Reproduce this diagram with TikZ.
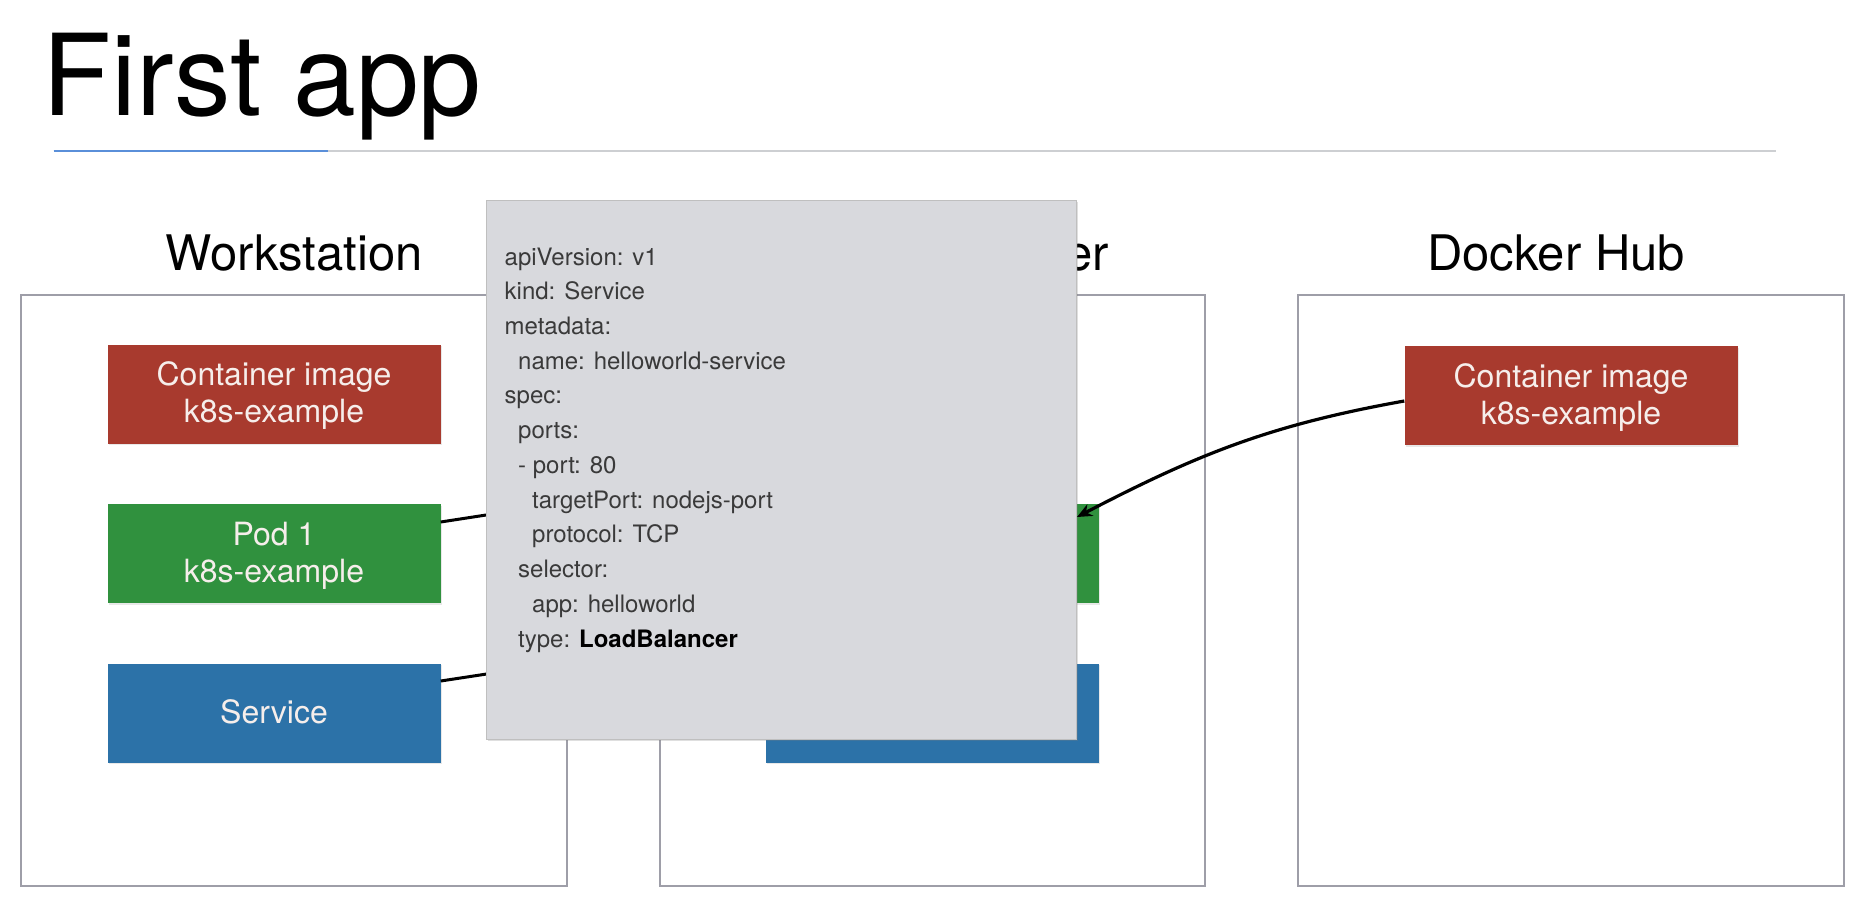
\documentclass[tikz,border=0pt]{standalone}
\usepackage{fontspec}
\setmainfont{TeX Gyre Heros}
\usetikzlibrary{shadows,arrows.meta}
\definecolor{boxred}{RGB}{168,58,46}
\definecolor{boxgreen}{RGB}{48,145,62}
\definecolor{boxblue}{RGB}{44,114,168}
\definecolor{panelgray}{RGB}{216,217,221}
\definecolor{framegray}{RGB}{158,158,168}
\definecolor{rulegray}{RGB}{205,207,210}
\definecolor{ruleblue}{RGB}{90,143,217}
\definecolor{yamltext}{RGB}{58,58,58}
\definecolor{boxtext}{RGB}{246,238,235}
\newcommand\btext[1]{\raisebox{-3pt}[\height][\depth]{\begin{tabular}{@{}c@{}}#1\end{tabular}}}
\begin{document}
\begin{tikzpicture}[x=1pt,y=-1pt,
  frame/.style={draw=framegray, line width=1.5pt, fill=white, inner sep=0pt},
  colorbox/.style={minimum width=333pt, minimum height=99pt, inner sep=0pt,
    text=boxtext, align=center, font=\fontsize{32}{37}\selectfont,
    drop shadow={opacity=0.18, shadow xshift=1pt, shadow yshift=-1.5pt}},
  redbox/.style={colorbox, fill=boxred},
  greenbox/.style={colorbox, fill=boxgreen},
  bluebox/.style={colorbox, fill=boxblue},
  label/.style={anchor=base, inner sep=0pt, font=\fontsize{49}{53}\selectfont},
  yamlline/.style={anchor=base west, inner sep=0pt, text=yamltext, font=\fontsize{24}{28}\selectfont},
  conn/.style={draw=black, line width=3pt},
  panel/.style={fill=panelgray, draw=black!25, line width=0.8pt, inner sep=0pt,
    drop shadow={opacity=0.25, shadow xshift=1.5pt, shadow yshift=-2pt}}
]
\fill[white] (0,0) rectangle (1865,907);
\useasboundingbox (0,0) rectangle (1865,907);

% title
\node[anchor=base west, inner sep=0pt, font=\fontsize{113}{120}\selectfont] (title) at (42,115) {First app};
\coordinate (r0) at (53.5,151);
\coordinate (r1) at (1776,151);
\coordinate (rb) at (328,151);
\draw[rulegray, line width=2pt] (r0) -- (r1);
\draw[ruleblue, line width=2.5pt] (r0) -- (rb);

% frames
\node[frame, minimum width=546pt, minimum height=591pt] (ws) at (294,590.5) {};
\node[frame, minimum width=545pt, minimum height=591pt] (mk) at (932.5,590.5) {};
\node[frame, minimum width=546pt, minimum height=591pt] (dh) at (1571,590.5) {};

% labels
\node[label] (wsl) at (294,270) {Workstation};
\node[label] (mkl) at (932.5,270) {Minikube cluster};
\node[label] (dhl) at (1556,270) {Docker Hub};

% workstation boxes
\node[redbox] (wimg) at (274,394) {\btext{Container image\\k8s-example}};
\node[greenbox] (wpod) at (274,553.5) {\btext{Pod 1\\k8s-example}};
\node[bluebox] (wsvc) at (274,713) {\btext{Service}};

% minikube boxes
\node[greenbox] (mpod) at (932,553.5) {\btext{Pod 1\\k8s-example}};
\node[bluebox] (msvc) at (932,713) {\btext{Service}};

% docker hub box
\node[redbox] (dimg) at (1571,395.5) {\btext{Container image\\k8s-example}};

% connectors hidden under panel
\coordinate (h1) at (700,482);
\coordinate (h2) at (700,641.5);
\draw[conn] ([yshift=31.5pt]wpod.east) -- (h1);
\draw[conn] ([yshift=32pt]wsvc.east) -- (h2);

% yaml panel
\node[panel, minimum width=590pt, minimum height=539pt] (yaml) at (781.5,469.5) {};
\node[yamlline] (y1) at (504.5,265) {apiVersion: v1};
\node[yamlline] (y2) at (504.5,299.7) {kind: Service};
\node[yamlline] (y3) at (504.5,334.5) {metadata:};
\node[yamlline] (y4) at (518,369.2) {name: helloworld-service};
\node[yamlline] (y5) at (504.5,403.9) {spec:};
\node[yamlline] (y6) at (518,438.7) {ports:};
\node[yamlline] (y7) at (518,473.4) {- port: 80};
\node[yamlline] (y8) at (532,508.1) {targetPort: nodejs-port};
\node[yamlline] (y9) at (532,542.8) {protocol: TCP};
\node[yamlline] (y10) at (518,577.6) {selector:};
\node[yamlline] (y11) at (532,612.3) {app: helloworld};
\node[yamlline] (y12) at (518,647) {type: \textcolor{black}{\bfseries LoadBalancer}};

% arrow from docker hub image
\coordinate (tip) at (1077,517);
\draw[conn, line width=3.2pt, -{Stealth[length=15pt,width=13pt]}] ([yshift=-5.5pt]dimg.west) .. controls (1270,425) and (1198,454) .. (tip);
\end{tikzpicture}
\end{document}
